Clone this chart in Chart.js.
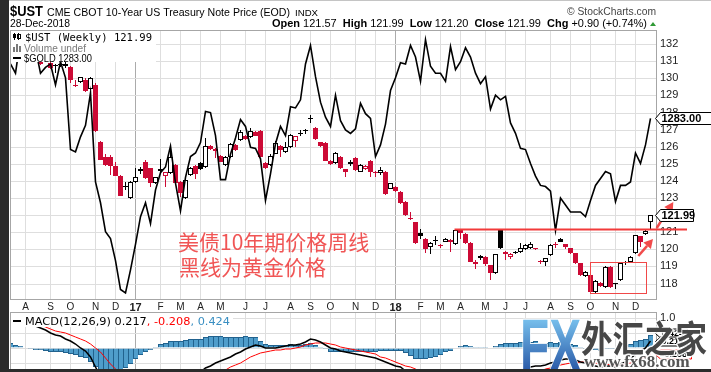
<!DOCTYPE html>
<html>
<head>
<meta charset="utf-8">
<title>$UST weekly vs $GOLD</title>
<script src="https://cdn.jsdelivr.net/npm/chart.js@4.4.1/dist/chart.umd.min.js"></script>
<style>
  html, body { margin: 0; padding: 0; }
  body { width: 711px; height: 372px; overflow: hidden; position: relative; background: #fff; }
  canvas { position: absolute; left: 0; }
  #mainChart { top: 0; }
  #macdChart { top: 312px; }
  .bar { position: absolute; background: #2b2b2b; z-index: 5; }
  #leftBar { left: 0; top: 0; width: 9px; height: 372px; }
  #bottomBar { left: 0; top: 369px; width: 711px; height: 3px; }
</style>
</head>
<body>
<canvas id="mainChart" width="711" height="312"></canvas>
<canvas id="macdChart" width="711" height="90"></canvas>
<div class="bar" id="leftBar"></div>
<div class="bar" id="bottomBar"></div>

<script>
// weekly bars, x = week number counted from the week of 2016-07-11
const open = [131.5,131.3,131.45,131.8,131.5,131.3,131.1,131.05,130.9,130.8,130.85,130.7,130.66,129.62,129.8,129.9,129.38,129.6,126.28,125.42,
  125.4,124.85,124.3,123.7,122.98,123.95,124.68,125.12,124.74,123.86,124.68,124.3,124.44,124.93,123.95,122.98,124.35,124.87,125.03,124.8,
  126.02,125.85,125.45,124.93,125.41,126.1,126.39,126.63,126.55,126.88,126.92,125.03,124.93,125.6,126.04,125.7,126.0,126.35,126.76,126.9,
  127.62,127.1,126.26,126.2,125.18,125.03,125.41,124.68,124.97,125.34,124.52,124.7,125.16,124.54,124.44,124.54,123.53,123.66,123.37,122.78,
  121.82,121.6,120.94,120.6,120.12,120.52,120.25,120.45,120.55,120.3,121.15,120.92,120.38,119.27,119.51,119.55,119.08,118.6,121.13,119.73,
  119.57,119.86,119.86,120.0,120.06,120.06,119.32,119.23,119.67,120.27,120.6,120.29,120.06,119.76,119.18,118.45,118.5,117.52,118.05,117.81,
  118.95,118.03,118.2,119.18,119.24,119.76,120.78,120.9,121.57];
const high = [131.9,131.6,131.9,132.0,131.8,131.55,131.3,131.5,131.0,130.85,130.95,130.95,130.7,129.88,130.1,130.0,130.05,129.7,126.35,125.58,
  125.5,125.12,124.35,123.95,124.0,124.74,124.8,125.2,124.78,124.25,125.26,124.52,126.1,124.98,124.0,124.1,124.8,124.95,125.1,126.49,
  126.1,125.9,125.5,125.45,126.2,126.15,126.95,126.68,127.07,126.92,126.95,125.1,125.55,126.35,126.1,126.3,126.72,126.65,126.95,127.05,
  127.85,127.15,126.3,126.25,125.25,125.7,125.45,124.72,125.2,125.38,125.0,124.95,125.2,124.6,124.83,124.6,123.9,123.7,123.4,122.8,
  122.2,121.62,121.17,120.64,120.4,120.78,120.3,120.65,120.6,121.17,121.2,120.95,120.44,119.35,119.65,119.6,119.1,119.75,121.17,119.88,
  119.8,119.9,120.35,120.3,120.4,120.1,119.4,119.5,120.3,120.4,120.65,120.32,120.1,119.8,119.2,118.75,118.55,118.2,118.1,119.0,
  119.0,118.05,119.22,119.3,119.6,120.86,120.8,121.15,121.99];
const low = [131.2,131.15,131.3,131.35,131.2,131.1,130.8,131.02,130.55,130.3,130.65,130.6,129.7,129.5,129.75,129.18,129.3,126.85,125.2,124.9,
  124.35,124.28,123.1,123.47,122.95,123.9,124.4,124.1,123.66,123.8,124.44,123.66,124.4,123.8,123.08,122.95,124.3,124.1,124.65,124.75,
  125.8,125.32,125.1,124.85,125.35,125.75,126.35,126.4,126.5,126.6,125.4,124.7,124.85,125.55,125.41,125.65,125.95,126.0,126.62,126.75,
  127.4,126.4,126.0,125.15,124.95,124.98,124.7,124.25,124.9,124.6,124.5,124.65,124.25,124.25,124.35,123.2,123.5,123.35,122.65,121.95,
  121.72,120.3,120.58,119.8,119.71,120.25,120.1,120.4,119.86,120.25,120.6,120.3,119.25,118.86,119.4,119.0,118.2,118.55,120.0,119.4,
  119.45,119.7,119.8,119.95,120.0,119.95,119.15,119.05,119.6,120.1,120.4,120.0,119.72,119.15,118.45,118.4,117.45,117.45,117.8,117.75,
  117.75,117.66,118.15,119.1,119.2,119.7,120.15,120.85,121.2];
const close = [131.3,131.45,131.8,131.5,131.3,131.25,130.85,131.4,130.6,130.72,130.78,130.85,129.9,129.55,130.05,129.28,130.02,126.9,125.22,124.95,
  124.87,124.3,123.13,123.62,123.95,124.25,124.6,124.15,123.9,124.2,124.6,124.5,125.41,123.86,123.27,124.05,124.74,124.4,124.68,126.04,
  125.85,125.72,125.12,125.41,126.16,125.8,126.88,126.44,126.92,126.63,125.41,124.74,125.48,126.2,125.8,125.96,126.68,126.63,126.82,126.98,
  127.68,126.47,126.07,125.18,124.99,125.65,124.76,124.54,125.12,124.62,124.95,124.89,124.54,124.44,124.64,123.23,123.86,123.41,122.69,121.98,
  121.76,120.35,120.76,120.0,120.35,120.48,120.19,120.58,120.45,121.13,120.94,120.35,119.28,119.14,119.62,119.14,118.6,119.73,120.06,119.86,
  119.7,119.76,120.06,120.25,120.3,120.0,119.27,119.47,120.25,120.23,120.45,120.15,119.76,119.18,118.5,118.7,117.49,118.16,117.85,118.95,
  117.8,117.95,119.18,119.24,119.57,120.84,120.45,121.09,121.99];
const gold = [1330,1322,1352,1338,1338,1343,1322,1327,1330,1312,1332,1318,1256,1254,1267,1277,1305,1228,1210,1185,
  1179,1160,1135,1132,1152,1174,1198,1210,1192,1221,1236,1241,1259,1227,1203,1232,1250,1253,1262,1289,
  1288,1268,1230,1230,1252,1266,1282,1276,1258,1257,1248,1212,1235,1261,1276,1268,1293,1292,1299,1330,
  1346,1319,1297,1284,1276,1303,1281,1273,1270,1274,1296,1287,1283,1250,1260,1278,1307,1318,1331,1330,
  1346,1336,1315,1351,1328,1322,1322,1315,1345,1325,1332,1344,1336,1322,1313,1319,1291,1303,1299,1302,
  1279,1270,1257,1256,1244,1233,1225,1224,1220,1186,1214,1208,1202,1202,1202,1198,1212,1225,1231,1237,
  1235,1211,1225,1225,1228,1253,1244,1260,1283];
const macdLine = [1.05,1.0,0.95,0.88,0.8,0.72,0.66,0.58,0.48,0.43,0.38,0.3,0.22,0.12,0.0,-0.12,-0.33,-0.65,-0.95,-1.2,
  -1.4,-1.55,-1.7,-1.75,-1.72,-1.65,-1.56,-1.5,-1.45,-1.36,-1.28,-1.22,-1.16,-1.12,-1.1,-1.02,-0.95,-0.9,-0.82,-0.7,
  -0.6,-0.52,-0.44,-0.38,-0.3,-0.22,-0.14,-0.04,0.04,0.1,0.06,-0.01,-0.02,0.0,0.03,0.05,0.08,0.1,0.14,0.2,
  0.28,0.26,0.2,0.1,-0.02,-0.06,-0.1,-0.15,-0.19,-0.22,-0.25,-0.28,-0.32,-0.36,-0.4,-0.48,-0.54,-0.6,-0.64,-0.78,
  -0.95,-1.1,-1.2,-1.28,-1.33,-1.36,-1.36,-1.32,-1.28,-1.2,-1.14,-1.1,-1.12,-1.14,-1.14,-1.15,-1.17,-1.1,-0.98,-0.93,
  -0.88,-0.84,-0.78,-0.72,-0.66,-0.6,-0.6,-0.57,-0.5,-0.47,-0.4,-0.37,-0.38,-0.42,-0.48,-0.52,-0.6,-0.62,-0.65,-0.6,
  -0.63,-0.64,-0.56,-0.47,-0.38,-0.22,-0.12,0.0,0.217];
const signalLine = [0.9,0.9,0.9,0.88,0.85,0.8,0.75,0.68,0.62,0.57,0.52,0.48,0.43,0.37,0.3,0.22,0.14,0.0,-0.15,-0.35,
  -0.55,-0.72,-0.9,-1.05,-1.16,-1.26,-1.32,-1.36,-1.38,-1.39,-1.39,-1.38,-1.37,-1.35,-1.32,-1.28,-1.23,-1.18,-1.12,-1.06,
  -0.99,-0.91,-0.82,-0.74,-0.66,-0.58,-0.5,-0.42,-0.33,-0.25,-0.18,-0.13,-0.11,-0.09,-0.07,-0.05,-0.03,0.0,0.04,0.08,
  0.13,0.16,0.17,0.15,0.12,0.08,0.04,0.0,-0.04,-0.08,-0.12,-0.15,-0.19,-0.22,-0.3,-0.36,-0.42,-0.48,-0.54,-0.6,
  -0.66,-0.73,-0.82,-0.91,-0.99,-1.06,-1.12,-1.16,-1.18,-1.19,-1.19,-1.18,-1.17,-1.16,-1.16,-1.16,-1.16,-1.15,-1.12,-1.09,
  -1.05,-1.01,-0.96,-0.91,-0.86,-0.81,-0.77,-0.73,-0.68,-0.64,-0.59,-0.55,-0.52,-0.5,-0.49,-0.49,-0.51,-0.53,-0.55,-0.56,
  -0.57,-0.58,-0.57,-0.55,-0.51,-0.45,-0.38,-0.3,-0.208];
const macdHist = [0.15,0.1,0.05,0.0,-0.05,-0.08,-0.09,-0.1,-0.14,-0.14,-0.14,-0.18,-0.21,-0.25,-0.3,-0.34,-0.47,-0.65,-0.8,-0.85,
  -0.85,-0.83,-0.8,-0.7,-0.56,-0.39,-0.24,-0.14,-0.07,0.03,0.11,0.16,0.21,0.23,0.22,0.26,0.28,0.28,0.3,0.36,
  0.39,0.39,0.38,0.36,0.36,0.36,0.36,0.38,0.37,0.35,0.24,0.12,0.09,0.09,0.1,0.1,0.11,0.1,0.1,0.12,
  0.15,0.1,0.03,-0.05,-0.14,-0.14,-0.14,-0.15,-0.15,-0.14,-0.13,-0.13,-0.13,-0.14,-0.1,-0.12,-0.12,-0.12,-0.1,-0.18,
  -0.29,-0.37,-0.38,-0.37,-0.34,-0.3,-0.24,-0.16,-0.1,-0.01,0.05,0.08,0.05,0.02,0.02,0.01,-0.01,0.05,0.14,0.16,
  0.17,0.17,0.18,0.19,0.2,0.21,0.17,0.16,0.18,0.17,0.19,0.18,0.14,0.08,0.01,-0.03,-0.09,-0.09,-0.1,-0.04,
  -0.06,-0.06,0.01,0.08,0.13,0.23,0.26,0.3,0.424];

const monthTickWeeks = [3,8,12,17,21,25,30,34,38,42,47,51,56,60,64,69,73,77,82,86,90,95,99,103,108,112,116,121,125];
const monthTickLabels = ["A","S","O","N","D","17","F","M","A","M","J","J","A","S","O","N","D","18","F","M","A","M","J","J","A","S","O","N","D"];
const priceTicks = [118,119,120,121,122,123,124,125,126,127,128,129,130,131,132];
const macdTicks = [-1.5,-1,-0.5,0,0.5,1];
const macdLabelTick = 1;

// hand drawn marks on the picture, in data units (week, price)
const supportLine = { value: 121.19, fromWeek: 88.8, toWeek: 135.3 };
const boxMark = { fromWeek: 115.9, toWeek: 127.0, low: 117.43, high: 119.28 };
const arrowMarks = [
  { from: [125.56, 119.61], to: [128.5, 120.6] },
  { from: [129.24, 121.23], to: [132.56, 122.78] },
];
const noteLines = ["美债10年期价格周线", "黑线为黄金价格"];

const RED = "#cc0a35";
const FONT = '"Liberation Sans", Arial, sans-serif';
Chart.defaults.font.family = FONT;

const last = close.length - 1;
const candleColor = close.map((c, i) => (c < (i > 0 ? close[i - 1] : open[i]) ? RED : "#000"));
const candleFill = close.map((c, i) => (c > open[i] ? "#fff" : candleColor[i]));

function isYearTick(ctx) {
  const i = monthTickWeeks.indexOf(ctx.tick ? ctx.tick.value : -1);
  return i >= 0 && /\d/.test(monthTickLabels[i]);
}
const gridColor = (ctx) => (isYearTick(ctx) ? "#ababab" : "#dedede");

// draw a list of text runs, squeezed/stretched to a target width
function drawRuns(ctx, x, y, runs, width) {
  let total = 0;
  runs.forEach((r) => { ctx.font = r.font; total += ctx.measureText(r.text).width; });
  const s = width ? width / total : 1;
  ctx.save();
  ctx.translate(x, y);
  ctx.scale(s, 1);
  let cx = 0;
  ctx.textBaseline = "alphabetic";
  ctx.textAlign = "left";
  runs.forEach((r) => {
    ctx.font = r.font;
    ctx.fillStyle = r.color || "#000";
    ctx.fillText(r.text, cx, 0);
    cx += ctx.measureText(r.text).width;
  });
  ctx.restore();
}

function drawTag(ctx, x, y, w, h, text, border, font) {
  ctx.save();
  ctx.beginPath();
  ctx.moveTo(x, y);
  ctx.lineTo(x + 5, y - h / 2);
  ctx.lineTo(x + w, y - h / 2);
  ctx.lineTo(x + w, y + h / 2);
  ctx.lineTo(x + 5, y + h / 2);
  ctx.closePath();
  ctx.fillStyle = "#fff";
  ctx.fill();
  ctx.lineWidth = 1;
  ctx.strokeStyle = border;
  ctx.stroke();
  ctx.font = font;
  ctx.fillStyle = "#000";
  ctx.textBaseline = "middle";
  ctx.fillText(text, x + 6, y + 0.5);
  ctx.restore();
}

function drawArrow(ctx, x1, y1, x2, y2) {
  const a = Math.atan2(y2 - y1, x2 - x1);
  const hl = 9, hw = 5;
  const bx = x2 - hl * Math.cos(a), by = y2 - hl * Math.sin(a);
  ctx.beginPath();
  ctx.moveTo(x1, y1);
  ctx.lineTo(bx, by);
  ctx.stroke();
  ctx.beginPath();
  ctx.moveTo(x2, y2);
  ctx.lineTo(bx + hw * Math.sin(a), by - hw * Math.cos(a));
  ctx.lineTo(bx - hw * Math.sin(a), by + hw * Math.cos(a));
  ctx.closePath();
  ctx.fill();
}

const pct = (close[last] - close[last - 1]) / close[last - 1] * 100;

const mainOverlay = {
  id: "mainOverlay",
  afterDraw(chart) {
    const { ctx, chartArea: a, scales } = chart;
    const x = scales.x, y = scales.y, yg = scales.yGold;
    ctx.save();

    // header
    ctx.fillStyle = "#c4c4c4";
    ctx.fillRect(0, 0, 711, 1);
    drawRuns(ctx, 10, 16, [{ text: "$UST", font: "bold 14px " + FONT }], 33);
    drawRuns(ctx, 47, 15.5, [{ text: "CME CBOT 10-Year US Treasury Note Price (EOD)", font: "11px " + FONT }], 243);
    drawRuns(ctx, 295, 15.5, [{ text: "INDX", font: "9.5px " + FONT }], 23);
    drawRuns(ctx, 567, 15, [{ text: "© StockCharts.com", font: "10.5px " + FONT, color: "#444" }], 89);
    drawRuns(ctx, 10, 27, [{ text: "28-Dec-2018", font: "10px " + FONT }], 60);
    const b = "bold 10.5px " + FONT, r = "10.5px " + FONT;
    drawRuns(ctx, 272, 27, [
      { text: "Open", font: b }, { text: " " + open[last].toFixed(2) + "  ", font: r },
      { text: "High", font: b }, { text: " " + high[last].toFixed(2) + "  ", font: r },
      { text: "Low", font: b }, { text: " " + low[last].toFixed(2) + "  ", font: r },
      { text: "Close", font: b }, { text: " " + close[last].toFixed(2) + "  ", font: r },
      { text: "Chg", font: b },
      { text: " +" + (close[last] - close[last - 1]).toFixed(2) + " (+" + pct.toFixed(2) + "%)", font: r },
    ], 375);
    ctx.fillStyle = "#2f9a35";
    ctx.beginPath();
    ctx.moveTo(650, 26); ctx.lineTo(656, 26); ctx.lineTo(653, 22); ctx.closePath();
    ctx.fill();

    // frame
    ctx.strokeStyle = "#a6a6a6";
    ctx.lineWidth = 1;
    ctx.strokeRect(a.left - 0.5, a.top - 0.5, a.right - a.left + 1, a.bottom - a.top + 1);

    // legend
    ctx.fillStyle = "#fff";
    ctx.fillRect(a.left, a.top, 145, 31);
    ctx.fillStyle = "#000";
    ctx.fillRect(14, 33, 1, 7); ctx.fillRect(13, 34, 3, 4);
    ctx.fillRect(18, 33, 1, 7); ctx.strokeStyle = "#000"; ctx.strokeRect(17.5, 34.5, 3, 4);
    drawRuns(ctx, 25, 40.5, [{ text: "$UST (Weekly) " + close[last].toFixed(2), font: '11px "DejaVu Sans Mono", monospace' }], 127);
    ctx.fillStyle = "#7a7a7a";
    ctx.fillRect(13, 47, 2, 5); ctx.fillRect(16, 44, 2, 8); ctx.fillRect(19, 46, 2, 6);
    drawRuns(ctx, 24, 51.5, [{ text: "Volume undef", font: "11px " + FONT, color: "#7a7a7a" }], 62);
    ctx.fillStyle = "#000";
    ctx.fillRect(13, 57, 8, 2);
    drawRuns(ctx, 24, 62, [{ text: "$GOLD " + gold[last].toFixed(2), font: "11px " + FONT }], 68);

    // hand drawn marks
    ctx.strokeStyle = "#f23a3a";
    ctx.lineWidth = 2;
    const ly = Math.round(y.getPixelForValue(supportLine.value)) + 0.5;
    ctx.beginPath();
    ctx.moveTo(x.getPixelForValue(supportLine.fromWeek), ly);
    ctx.lineTo(x.getPixelForValue(supportLine.toWeek), ly);
    ctx.stroke();
    ctx.lineWidth = 1;
    ctx.strokeStyle = "#f04848";
    const bx1 = Math.round(x.getPixelForValue(boxMark.fromWeek)) + 0.5;
    const bx2 = Math.round(x.getPixelForValue(boxMark.toWeek)) + 0.5;
    const by1 = Math.round(y.getPixelForValue(boxMark.high)) + 0.5;
    const by2 = Math.round(y.getPixelForValue(boxMark.low)) + 0.5;
    ctx.strokeRect(bx1, by1, bx2 - bx1, by2 - by1);
    ctx.strokeStyle = "rgba(240,60,60,0.92)";
    ctx.fillStyle = "rgba(240,60,60,0.92)";
    ctx.lineWidth = 2.5;
    arrowMarks.forEach((m) => {
      drawArrow(ctx, x.getPixelForValue(m.from[0]), y.getPixelForValue(m.from[1]),
        x.getPixelForValue(m.to[0]), y.getPixelForValue(m.to[1]));
    });

    // price tags
    drawTag(ctx, 655.5, Math.round(y.getPixelForValue(close[last])) + 0.5, 38, 12, close[last].toFixed(2), "#000", "bold 11px " + FONT);
    drawTag(ctx, 655.5, Math.round(yg.getPixelForValue(gold[last])) + 0.5, 60, 12, gold[last].toFixed(2), "#000", "bold 11px " + FONT);

    // note
    ctx.fillStyle = "#f05555";
    ctx.font = '21px "Noto Sans CJK SC", sans-serif';
    ctx.textBaseline = "alphabetic";
    ctx.fillText(noteLines[0], 178, 250);
    ctx.fillText(noteLines[1], 179, 275);
    ctx.restore();
  },
};

new Chart(document.getElementById("mainChart"), {
  type: "bar",
  data: {
    datasets: [
      {
        label: "$GOLD", type: "line", yAxisID: "yGold", order: 0,
        data: gold.map((g, i) => ({ x: i, y: g })),
        borderColor: "#000", borderWidth: 1.6, pointRadius: 0, tension: 0,
      },
      {
        label: "$UST body", order: 1, grouped: false,
        data: open.map((o, i) => ({ x: i, y: [o, close[i]] })),
        backgroundColor: candleFill, borderColor: candleColor, borderWidth: 1,
        borderSkipped: false, barThickness: 5, minBarLength: 1, inflateAmount: 0,
      },
      {
        label: "$UST range", order: 2, grouped: false,
        data: low.map((l, i) => ({ x: i, y: [l, high[i]] })),
        backgroundColor: candleColor, borderWidth: 0, barThickness: 1, inflateAmount: 0,
      },
    ],
  },
  options: {
    responsive: false,
    animation: false,
    layout: { padding: { left: 11, top: 31, right: 0, bottom: 0 } },
    plugins: { legend: { display: false }, tooltip: { enabled: false } },
    scales: {
      x: {
        type: "linear", min: 0.1, max: 129.1, offset: false,
        afterBuildTicks: (s) => { s.ticks = monthTickWeeks.map((v) => ({ value: v })); },
        afterFit: (s) => { s.height = 13; },
        grid: { offset: false, color: gridColor, drawTicks: false },
        border: { display: false },
        ticks: {
          autoSkip: false, maxRotation: 0, padding: 2, color: "#222",
          callback: (v) => monthTickLabels[monthTickWeeks.indexOf(v)],
          font: (ctx) => (isYearTick(ctx) ? { size: 11, weight: "bold" } : { size: 10 }),
        },
      },
      y: {
        position: "right", min: 117.094, max: 132.766, alignToPixels: true,
        afterBuildTicks: (s) => { s.ticks = priceTicks.map((v) => ({ value: v })); },
        afterFit: (s) => { s.width = 55; },
        grid: { color: "#dedede", drawTicks: false },
        border: { display: false },
        ticks: { padding: 4, color: "#222", font: { size: 11 }, callback: (v) => String(v) },
      },
      yGold: { display: false, min: 1126.8, max: 1358.5 },
    },
  },
  plugins: [mainOverlay],
});

const macdOverlay = {
  id: "macdOverlay",
  afterDraw(chart) {
    const { ctx, chartArea: a, scales } = chart;
    const y = scales.y;
    ctx.save();
    ctx.strokeStyle = "#a6a6a6";
    ctx.lineWidth = 1;
    ctx.strokeRect(a.left - 0.5, a.top - 0.5, a.right - a.left + 1, a.bottom - a.top + 1);

    // legend
    ctx.fillStyle = "#fff";
    ctx.fillRect(a.left, a.top, 222, 14);
    ctx.fillStyle = "#000";
    ctx.fillRect(13, 8, 8, 2);
    const f = '11px "DejaVu Sans", sans-serif';
    drawRuns(ctx, 25, 13, [
      { text: "MACD(12,26,9) " + macdLine[last].toFixed(3), font: f, color: "#000" },
      { text: ", " + signalLine[last].toFixed(3), font: f, color: "#f00" },
      { text: ", " + macdHist[last].toFixed(3), font: f, color: "#3a8fc2" },
    ], 205);

    // value tags
    const tf = "bold 9px " + FONT;
    drawTag(ctx, 655.5, Math.round(y.getPixelForValue(macdHist[last])) - 1.5, 32, 9, macdHist[last].toFixed(3), "#000", tf);
    drawTag(ctx, 655.5, Math.round(y.getPixelForValue(macdLine[last])) + 0.5, 32, 9, macdLine[last].toFixed(3), "#000", tf);
    drawTag(ctx, 655.5, Math.round(y.getPixelForValue(signalLine[last])) + 0.5, 36, 9, signalLine[last].toFixed(3), "#f00", tf);

    // site watermark
    const g = ctx.createLinearGradient(0, 6, 0, 58);
    g.addColorStop(0, "#79c2ee");
    g.addColorStop(1, "#2a5aa8");
    ctx.lineJoin = "round";
    ctx.lineWidth = 2;
    ctx.strokeStyle = "rgba(255,255,255,0.9)";
    ctx.font = "bold 74px " + FONT;
    ctx.textBaseline = "alphabetic";
    ctx.strokeText("FX", 520, 59, 61);
    ctx.fillStyle = g;
    ctx.fillText("FX", 520, 59, 61);
    ctx.lineWidth = 3;
    ctx.font = 'bold 37px "Noto Sans CJK SC", sans-serif';
    ctx.strokeText("外汇之家", 581, 41, 126);
    ctx.fillStyle = "#474747";
    ctx.fillText("外汇之家", 581, 41, 126);
    ctx.font = 'bold 17px "Liberation Serif", serif';
    ctx.strokeText("www.fx68.com", 584, 55, 120);
    ctx.fillStyle = "#555";
    ctx.fillText("www.fx68.com", 584, 55, 120);

    // top axis label sits above the watermark
    ctx.font = "11px " + FONT;
    ctx.fillStyle = "#222";
    ctx.textBaseline = "middle";
    ctx.fillText(macdLabelTick.toFixed(1), a.right + 4, y.getPixelForValue(macdLabelTick));
    ctx.restore();
  },
};

new Chart(document.getElementById("macdChart"), {
  type: "bar",
  data: {
    datasets: [
      {
        label: "MACD", type: "line", order: 0,
        data: macdLine.map((v, i) => ({ x: i, y: v })),
        borderColor: "#000", borderWidth: 1.5, pointRadius: 0, tension: 0,
      },
      {
        label: "Signal", type: "line", order: 1,
        data: signalLine.map((v, i) => ({ x: i, y: v })),
        borderColor: "#f00", borderWidth: 1, pointRadius: 0, tension: 0,
      },
      {
        label: "Histogram", order: 2, grouped: false,
        data: macdHist.map((v, i) => ({ x: i, y: v })),
        backgroundColor: "#4f9dcb", borderColor: "#21628e",
        borderWidth: { left: 1, top: 1, bottom: 1, right: 0 }, borderSkipped: "start",
        barThickness: 5, inflateAmount: 0,
      },
    ],
  },
  options: {
    responsive: false,
    animation: false,
    layout: { padding: { left: 11, top: 1, right: 0, bottom: 7 } },
    plugins: { legend: { display: false }, tooltip: { enabled: false } },
    scales: {
      x: {
        type: "linear", min: 0.1, max: 129.1, offset: false,
        afterBuildTicks: (s) => { s.ticks = monthTickWeeks.map((v) => ({ value: v })); },
        afterFit: (s) => { s.height = 0; },
        grid: { offset: false, color: gridColor, drawTicks: false },
        border: { display: false },
        ticks: { display: false },
      },
      y: {
        position: "right", min: -1.593, max: 1.168, alignToPixels: true,
        afterBuildTicks: (s) => { s.ticks = macdTicks.map((v) => ({ value: v })); },
        afterFit: (s) => { s.width = 55; },
        grid: { color: "#dedede", drawTicks: false },
        border: { display: false },
        ticks: { display: false },
      },
    },
  },
  plugins: [macdOverlay],
});
</script>
</body>
</html>
